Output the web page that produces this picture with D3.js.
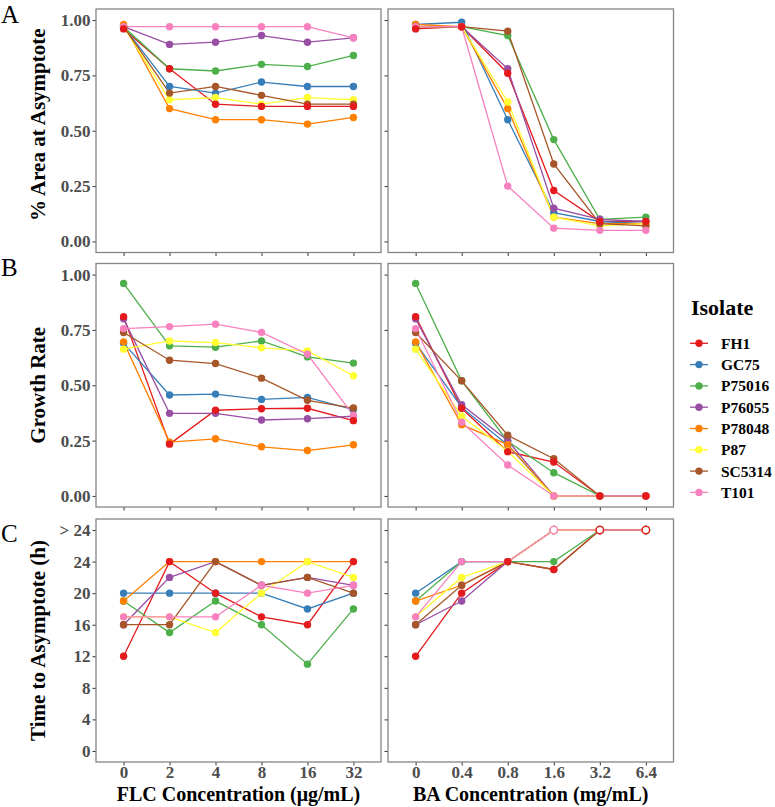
<!DOCTYPE html>
<html>
<head>
<meta charset="utf-8">
<script src="https://cdn.jsdelivr.net/npm/d3@7/dist/d3.min.js"></script>
<style>
  html, body { margin: 0; padding: 0; background: #fff; }
  svg { display: block; }
</style>
</head>
<body>
<svg id="chart" width="775" height="807"></svg>
<script>
// ---------- DATA ----------
const isolates = ["FH1", "GC75", "P75016", "P76055", "P78048", "P87", "SC5314", "T101"];
const isolateColors = ["#E41A1C", "#377EB8", "#4DAF4A", "#984EA3", "#FF7F00", "#FFFF33", "#A65628", "#F781BF"];
const flcConc = ["0", "2", "4", "8", "16", "32"];
const baConc = ["0", "0.4", "0.8", "1.6", "3.2", "6.4"];

// rows follow the order of `isolates`
const areaFLC = [
  [0.96, 0.78, 0.62, 0.61, 0.61, 0.61],
  [0.97, 0.70, 0.67, 0.72, 0.70, 0.70],
  [0.97, 0.78, 0.77, 0.80, 0.79, 0.84],
  [0.97, 0.89, 0.90, 0.93, 0.90, 0.92],
  [0.98, 0.60, 0.55, 0.55, 0.53, 0.56],
  [0.97, 0.64, 0.65, 0.62, 0.65, 0.64],
  [0.97, 0.67, 0.70, 0.66, 0.62, 0.62],
  [0.97, 0.97, 0.97, 0.97, 0.97, 0.92]
];
const areaBA = [
  [0.96, 0.97, 0.76, 0.23, 0.09, 0.09],
  [0.98, 0.99, 0.55, 0.13, 0.09, 0.08],
  [0.97, 0.97, 0.93, 0.46, 0.10, 0.11],
  [0.97, 0.97, 0.78, 0.15, 0.10, 0.09],
  [0.98, 0.97, 0.60, 0.11, 0.08, 0.08],
  [0.97, 0.97, 0.63, 0.11, 0.07, 0.08],
  [0.97, 0.97, 0.95, 0.35, 0.08, 0.07],
  [0.97, 0.97, 0.25, 0.06, 0.05, 0.05]
];
const growthFLC = [
  [0.81, 0.234, 0.387, 0.394, 0.396, 0.34],
  [0.69, 0.456, 0.46, 0.436, 0.445, 0.39],
  [0.96, 0.678, 0.672, 0.70, 0.628, 0.60],
  [0.80, 0.373, 0.373, 0.343, 0.349, 0.36],
  [0.696, 0.243, 0.258, 0.222, 0.205, 0.231],
  [0.663, 0.70, 0.693, 0.669, 0.655, 0.543],
  [0.738, 0.613, 0.598, 0.532, 0.432, 0.397],
  [0.756, 0.765, 0.776, 0.739, 0.64, 0.364]
];
const growthBA = [
  [0.81, 0.396, 0.20, 0.153, 0, 0],
  [0.69, 0.40, 0.23, 0, 0, 0],
  [0.96, 0.52, 0.247, 0.105, 0, 0],
  [0.80, 0.412, 0.25, 0, 0, 0],
  [0.696, 0.322, 0.232, 0, 0, 0],
  [0.663, 0.36, 0.202, 0, 0, 0],
  [0.738, 0.52, 0.274, 0.168, 0, 0],
  [0.756, 0.333, 0.14, 0, 0, 0]
];
// 28 stands for "> 24" (drawn hollow)
const timeFLC = [
  [12, 24, 20, 17, 16, 24],
  [20, 20, 20, 20, 18, 20],
  [19, 15, 19, 16, 11, 18],
  [16, 22, 24, 21, 22, 21],
  [19, 24, 24, 24, 24, 24],
  [17, 17, 15, 20, 24, 22],
  [16, 16, 24, 21, 22, 20],
  [17, 17, 17, 21, 20, 21]
];
const timeBA = [
  [12, 20, 24, 23, 28, 28],
  [20, 24, 24, 28, 28, 28],
  [19, 24, 24, 24, 28, 28],
  [16, 19, 24, 28, 28, 28],
  [19, 21, 24, 28, 28, 28],
  [17, 22, 24, 28, 28, 28],
  [16, 21, 24, 23, 28, 28],
  [17, 24, 24, 28, 28, 28]
];
const fracTicks = [0, 0.25, 0.5, 0.75, 1.0];
const fracTickLabels = ["0.00", "0.25", "0.50", "0.75", "1.00"];
const timeTicks = [0, 4, 8, 12, 16, 20, 24, 28];
const timeTickLabels = ["0", "4", "8", "12", "16", "20", "24", "> 24"];

// ---------- LAYOUT ----------
const svg = d3.select("#chart");
const SERIF = "'Liberation Serif', 'Times New Roman', serif";
const colLeft = [96, 381];
const colRight = [388, 673.5];
const rows = [[9, 252.5], [263.5, 507], [519, 762]];
const color = d3.scaleOrdinal().domain(isolates).range(isolateColors);

function drawPanel(opts) {
  const { xr, yr, cats, data, yDomain, ticks, tickLabels, showY, showX } = opts;
  const g = svg.append("g");
  const x = d3.scalePoint().domain(cats).range(xr).padding(0.6);
  const y = d3.scaleLinear().domain(yDomain).range([yr[1], yr[0]]);

  const yAxis = d3.axisLeft(y).tickValues(ticks).tickSize(3.5).tickPadding(2)
    .tickFormat((d, i) => showY ? tickLabels[i] : "");
  const ya = g.append("g").attr("transform", `translate(${xr[0]},0)`).call(yAxis);
  const xAxis = d3.axisBottom(x).tickSize(3.5).tickPadding(2)
    .tickFormat(d => showX ? d : "");
  const xa = g.append("g").attr("transform", `translate(0,${yr[1]})`).call(xAxis);
  [ya, xa].forEach(a => {
    a.select(".domain").remove();
    a.selectAll(".tick line").attr("stroke", "#333").attr("stroke-width", 1);
    a.selectAll(".tick text").attr("fill", "#4d4d4d")
      .style("font-family", SERIF).style("font-weight", "bold").style("font-size", "17px");
  });
  xa.selectAll(".tick text").attr("dy", "0.62em");

  g.append("rect").attr("x", xr[0]).attr("y", yr[0])
    .attr("width", xr[1] - xr[0]).attr("height", yr[1] - yr[0])
    .attr("fill", "none").attr("stroke", "#858585").attr("stroke-width", 1.3);

  const series = isolates.map((iso, i) => ({
    iso, pts: cats.map((c, j) => ({ c, v: data[i][j] }))
  }));
  const line = d3.line().x(d => x(d.c)).y(d => y(d.v));
  g.append("g").selectAll("path").data(series).join("path")
    .attr("d", d => line(d.pts)).attr("fill", "none")
    .attr("stroke", d => color(d.iso)).attr("stroke-width", 1.3);

  // points: FH1 drawn last
  const order = series.slice(1).concat(series.slice(0, 1));
  const pts = [];
  order.forEach(s => s.pts.forEach(p => pts.push({ iso: s.iso, c: p.c, v: p.v })));
  g.append("g").selectAll("circle").data(pts).join("circle")
    .attr("cx", d => x(d.c)).attr("cy", d => y(d.v)).attr("r", 3.7)
    .attr("fill", d => d.v > 24 ? "#fff" : color(d.iso))
    .attr("stroke", d => d.v > 24 ? color(d.iso) : "none")
    .attr("stroke-width", 1.3);
  return g;
}

const fracDomain = [-0.05, 1.05];
const timeDomain = [-1.4, 29.4];
drawPanel({ xr: colLeft, yr: rows[0], cats: flcConc, data: areaFLC, yDomain: fracDomain, ticks: fracTicks, tickLabels: fracTickLabels, showY: true, showX: false });
drawPanel({ xr: colRight, yr: rows[0], cats: baConc, data: areaBA, yDomain: fracDomain, ticks: fracTicks, tickLabels: fracTickLabels, showY: false, showX: false });
drawPanel({ xr: colLeft, yr: rows[1], cats: flcConc, data: growthFLC, yDomain: fracDomain, ticks: fracTicks, tickLabels: fracTickLabels, showY: true, showX: false });
drawPanel({ xr: colRight, yr: rows[1], cats: baConc, data: growthBA, yDomain: fracDomain, ticks: fracTicks, tickLabels: fracTickLabels, showY: false, showX: false });
drawPanel({ xr: colLeft, yr: rows[2], cats: flcConc, data: timeFLC, yDomain: timeDomain, ticks: timeTicks, tickLabels: timeTickLabels, showY: true, showX: true });
drawPanel({ xr: colRight, yr: rows[2], cats: baConc, data: timeBA, yDomain: timeDomain, ticks: timeTicks, tickLabels: timeTickLabels, showY: false, showX: true });

// y titles
const yTitles = ["% Area at Asymptote", "Growth Rate", "Time to Asymptote (h)"];
const yTitleShift = [-6, 0, 0];
yTitles.forEach((t, i) => {
  const cy = (rows[i][0] + rows[i][1]) / 2 + yTitleShift[i];
  svg.append("text").attr("transform", `translate(45,${cy}) rotate(-90)`)
    .attr("text-anchor", "middle")
    .style("font-family", SERIF).style("font-weight", "bold").style("font-size", "21px")
    .attr("fill", "#000").text(t);
});
// x titles
svg.append("text").attr("x", (colLeft[0] + colLeft[1]) / 2).attr("y", 801)
  .attr("text-anchor", "middle").style("font-family", SERIF).style("font-weight", "bold")
  .style("font-size", "20px").text("FLC Concentration (μg/mL)");
svg.append("text").attr("x", (colRight[0] + colRight[1]) / 2).attr("y", 801)
  .attr("text-anchor", "middle").style("font-family", SERIF).style("font-weight", "bold")
  .style("font-size", "20px").text("BA Concentration (mg/mL)");

// panel letters
const letters = ["A", "B", "C"];
const letterY = [23, 276, 542];
letters.forEach((l, i) => {
  svg.append("text").attr("x", 1).attr("y", letterY[i])
    .style("font-family", SERIF).style("font-size", "25px").text(l);
});

// legend
const lg = svg.append("g");
lg.append("text").attr("x", 691).attr("y", 315)
  .style("font-family", SERIF).style("font-weight", "bold").style("font-size", "22px").text("Isolate");
const legendY = d3.scalePoint().domain(isolates).range([343.3, 492.4]);
const items = lg.selectAll("g.item").data(isolates).join("g").attr("class", "item")
  .attr("transform", d => `translate(0,${legendY(d)})`);
items.append("line").attr("x1", 690).attr("x2", 708).attr("y1", 0).attr("y2", 0)
  .attr("stroke", d => color(d)).attr("stroke-width", 1.3);
items.append("circle").attr("cx", 699).attr("cy", 0).attr("r", 3.7).attr("fill", d => color(d));
items.append("text").attr("x", 721).attr("y", 0).attr("dy", "0.35em")
  .style("font-family", SERIF).style("font-weight", "bold").style("font-size", "15.5px").text(d => d);
</script>
</body>
</html>
